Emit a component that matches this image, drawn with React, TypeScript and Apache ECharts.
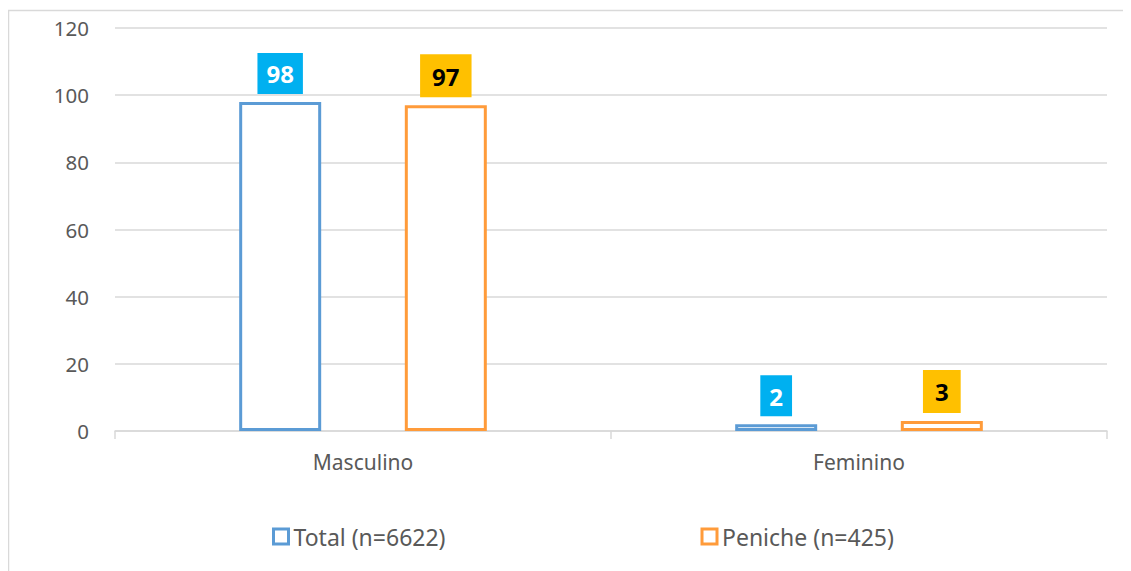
import React, { useEffect, useRef } from "react";
import * as echarts from "echarts";

const categories = ["Masculino", "Feminino"];
const totalValues = [98, 2];
const penicheValues = [97, 3];
const seriesNames = ["Total (n=6622)", "Peniche (n=425)"];
const yTicks = { min: 0, max: 120, interval: 20 };

const BLUE = "#5B9BD5";
const ORANGE = "#FF9B3A";
const FONT = "'Noto Sans', sans-serif";

export default function App() {
  const ref = useRef<HTMLDivElement>(null);
  useEffect(() => {
    if (!ref.current) return;
    const chart = echarts.init(ref.current, undefined, { renderer: "svg" });
    chart.setOption({
      animation: false,
      backgroundColor: "#ffffff",
      graphic: [
        {
          type: "rect",
          shape: { x: 0.5, y: 2.5, width: 1200, height: 700 },
          style: { fill: "none", stroke: "#d9d9d9", lineWidth: 1.5 },
          silent: true,
        },
      ],
      grid: { left: 107, right: 24, top: 20, bottom: 140, containLabel: false },
      legend: {
        bottom: 18,
        left: 259,
        itemWidth: 15,
        itemHeight: 15,
        itemGap: 255,
        textStyle: { color: "#595959", fontSize: 23, fontFamily: FONT },
        data: [
          { name: seriesNames[0], icon: "rect", itemStyle: { color: "#fff", borderColor: BLUE, borderWidth: 3 } },
          { name: seriesNames[1], icon: "rect", itemStyle: { color: "#fff", borderColor: ORANGE, borderWidth: 3 } },
        ],
      },
      xAxis: {
        type: "category",
        data: categories,
        axisLine: { lineStyle: { color: "#d9d9d9", width: 1.5 } },
        axisTick: { show: true, length: 8, alignWithLabel: false, lineStyle: { color: "#d9d9d9", width: 1.5 } },
        axisLabel: { color: "#595959", fontSize: 21, fontFamily: FONT, margin: 20 },
      },
      yAxis: {
        type: "value",
        min: yTicks.min,
        max: yTicks.max,
        interval: yTicks.interval,
        axisLine: { show: false },
        axisTick: { show: false },
        splitLine: { lineStyle: { color: "#d9d9d9", width: 1.5 } },
        axisLabel: { color: "#595959", fontSize: 20.5, fontFamily: FONT, margin: 26 },
      },
      series: [
        {
          name: seriesNames[0],
          type: "bar",
          data: totalValues,
          barWidth: 82,
          barGap: "102%",
          itemStyle: { color: "#ffffff", borderColor: BLUE, borderWidth: 3 },
          label: {
            show: true,
            position: "top",
            distance: 8,
            color: "#ffffff",
            fontWeight: "bold",
            fontSize: 24,
            fontFamily: FONT,
            backgroundColor: "#00B0F0",
            padding: [7, 9, 6, 9],
            lineHeight: 28,
          },
        },
        {
          name: seriesNames[1],
          type: "bar",
          data: penicheValues,
          barWidth: 82,
          itemStyle: { color: "#ffffff", borderColor: ORANGE, borderWidth: 3 },
          label: {
            show: true,
            position: "top",
            distance: 8,
            color: "#000000",
            fontWeight: "bold",
            fontSize: 24,
            fontFamily: FONT,
            backgroundColor: "#FFC000",
            padding: [8, 12, 7, 12],
            lineHeight: 28,
          },
        },
      ],
    });
    return () => chart.dispose();
  }, []);
  return <div ref={ref} style={{ width: 1123, height: 563 }} />;
}
